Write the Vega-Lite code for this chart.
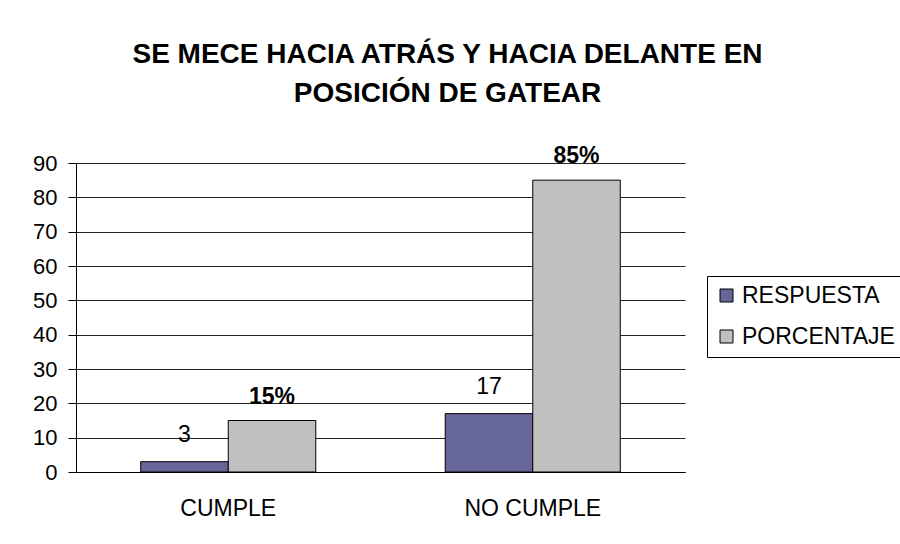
{
  "$schema": "https://vega.github.io/schema/vega-lite/v6.json",
  "width": 609,
  "height": 309,
  "autosize": {"type": "none"},
  "padding": {"left": 76, "top": 163, "right": 215, "bottom": 72},
  "background": "white",
  "title": {
    "text": ["SE MECE HACIA ATRÁS Y HACIA DELANTE EN", "POSICIÓN DE GATEAR"],
    "font": "Liberation Sans",
    "fontSize": 28,
    "fontWeight": "bold",
    "color": "black",
    "anchor": "middle",
    "dx": 67,
    "lineHeight": 39,
    "baseline": "alphabetic",
    "offset": 15
  },
  "data": {
    "values": [
      {"categoria": "CUMPLE", "serie": "RESPUESTA", "valor": 3, "etiqueta": "3"},
      {"categoria": "CUMPLE", "serie": "PORCENTAJE", "valor": 15, "etiqueta": "15%"},
      {"categoria": "NO CUMPLE", "serie": "RESPUESTA", "valor": 17, "etiqueta": "17"},
      {"categoria": "NO CUMPLE", "serie": "PORCENTAJE", "valor": 85, "etiqueta": "85%"}
    ]
  },
  "encoding": {
    "x": {
      "field": "categoria",
      "type": "nominal",
      "sort": ["CUMPLE", "NO CUMPLE"],
      "scale": {"paddingInner": 0.425, "paddingOuter": 0.2125},
      "axis": {
        "title": null,
        "labelAngle": 0,
        "labelFont": "Liberation Sans",
        "labelFontSize": 23,
        "labelColor": "black",
        "labelBaseline": "alphabetic",
        "labelPadding": 43,
        "ticks": false,
        "domainColor": "black",
        "domainWidth": 1
      }
    },
    "xOffset": {"field": "serie", "type": "nominal", "sort": ["RESPUESTA", "PORCENTAJE"], "scale": {"paddingInner": 0, "paddingOuter": 0}},
    "y": {
      "field": "valor",
      "type": "quantitative",
      "scale": {"domain": [0, 90], "nice": false},
      "axis": {
        "title": null,
        "values": [0, 10, 20, 30, 40, 50, 60, 70, 80, 90],
        "labelFont": "Liberation Sans",
        "labelFontSize": 22,
        "labelColor": "black",
        "labelPadding": 11,
        "tickSize": 8,
        "tickColor": "black",
        "domainColor": "black",
        "gridColor": "#222222",
        "gridWidth": 1
      }
    }
  },
  "layer": [
    {
      "mark": {"type": "bar", "stroke": "black", "strokeWidth": 1},
      "encoding": {
        "color": {
          "field": "serie",
          "type": "nominal",
          "sort": ["RESPUESTA", "PORCENTAJE"],
          "scale": {"domain": ["RESPUESTA", "PORCENTAJE"], "range": ["#666699", "#C0C0C0"]},
          "legend": {
            "title": null,
            "orient": "none",
            "legendX": 631,
            "legendY": 113,
            "strokeColor": "black",
            "fillColor": "white",
            "padding": 8,
            "symbolType": "square",
            "symbolSize": 169,
            "symbolStrokeColor": "black",
            "symbolStrokeWidth": 1,
            "symbolOpacity": 1,
            "labelFont": "Liberation Sans",
            "labelFontSize": 23,
            "labelColor": "black",
            "labelOffset": 4,
            "rowPadding": 17
          }
        }
      }
    },
    {
      "transform": [{"filter": "datum.serie === 'RESPUESTA'"}],
      "mark": {"type": "text", "font": "Liberation Sans", "fontSize": 23, "baseline": "alphabetic", "dy": -20, "color": "black"},
      "encoding": {"text": {"field": "etiqueta"}}
    },
    {
      "transform": [{"filter": "datum.serie === 'PORCENTAJE'"}],
      "mark": {"type": "text", "font": "Liberation Sans", "fontSize": 23, "fontWeight": "bold", "baseline": "alphabetic", "dy": -17, "color": "black"},
      "encoding": {"text": {"field": "etiqueta"}}
    }
  ],
  "config": {"view": {"stroke": null}}
}
